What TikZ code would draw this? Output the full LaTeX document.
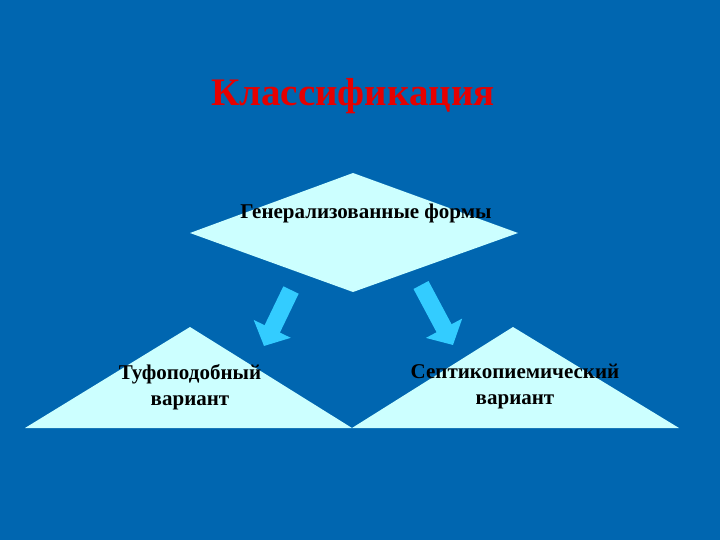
\documentclass[tikz,border=0pt]{standalone}
\usepackage{fontspec}
\setmainfont{Liberation Serif}
\usetikzlibrary{arrows.meta}
\definecolor{bgblue}{RGB}{0,102,176}
\definecolor{paleblue}{RGB}{204,255,255}
\definecolor{arrowblue}{RGB}{51,204,255}
\definecolor{titlered}{RGB}{230,0,0}
\tikzset{
  shapefill/.style={fill=paleblue, draw=none},
  bigarrow/.style={draw=arrowblue, line width=17pt, -{Triangle[length=19pt,width=40pt]}},
  label/.style={font=\bfseries\fontsize{21}{26}\selectfont, text=black, align=center, inner sep=0pt}
}
\begin{document}
\begin{tikzpicture}[x=1pt,y=-1pt]
\fill[bgblue] (0,0) rectangle (720,540);
\useasboundingbox (0,0) rectangle (720,540);
% diamond
\coordinate (dT) at (353,173);
\coordinate (dL) at (190,233);
\coordinate (dR) at (518,233);
\coordinate (dB) at (353,292);
\fill[shapefill] (dT) -- (dR) -- (dB) -- (dL) -- cycle;
% left triangle
\coordinate (lA) at (190,327);
\coordinate (lL) at (25,428);
\coordinate (lR) at (352,428);
\fill[shapefill] (lA) -- (lR) -- (lL) -- cycle;
% right triangle
\coordinate (rA) at (513,327);
\coordinate (rL) at (352,428);
\coordinate (rR) at (679,428);
\fill[shapefill] (rA) -- (rR) -- (rL) -- cycle;
% arrows
\coordinate (a1s) at (291,290);
\coordinate (a1e) at (264,346);
\coordinate (a2s) at (421,285);
\coordinate (a2e) at (453,345);
\draw[bigarrow] (a1s) -- (a1e);
\draw[bigarrow] (a2s) -- (a2e);
% texts
\node[font=\bfseries\fontsize{39}{44}\selectfont, text=titlered, inner sep=0pt] (title) at (353,96) {Классификация};
\node[label] (gen) at (366,213) {Генерализованные формы};
\node[label] (tuf) at (190,387) {Туфоподобный\\вариант};
\node[label] (sep) at (515,387) {Септикопиемический\\вариант};
\end{tikzpicture}
\end{document}
